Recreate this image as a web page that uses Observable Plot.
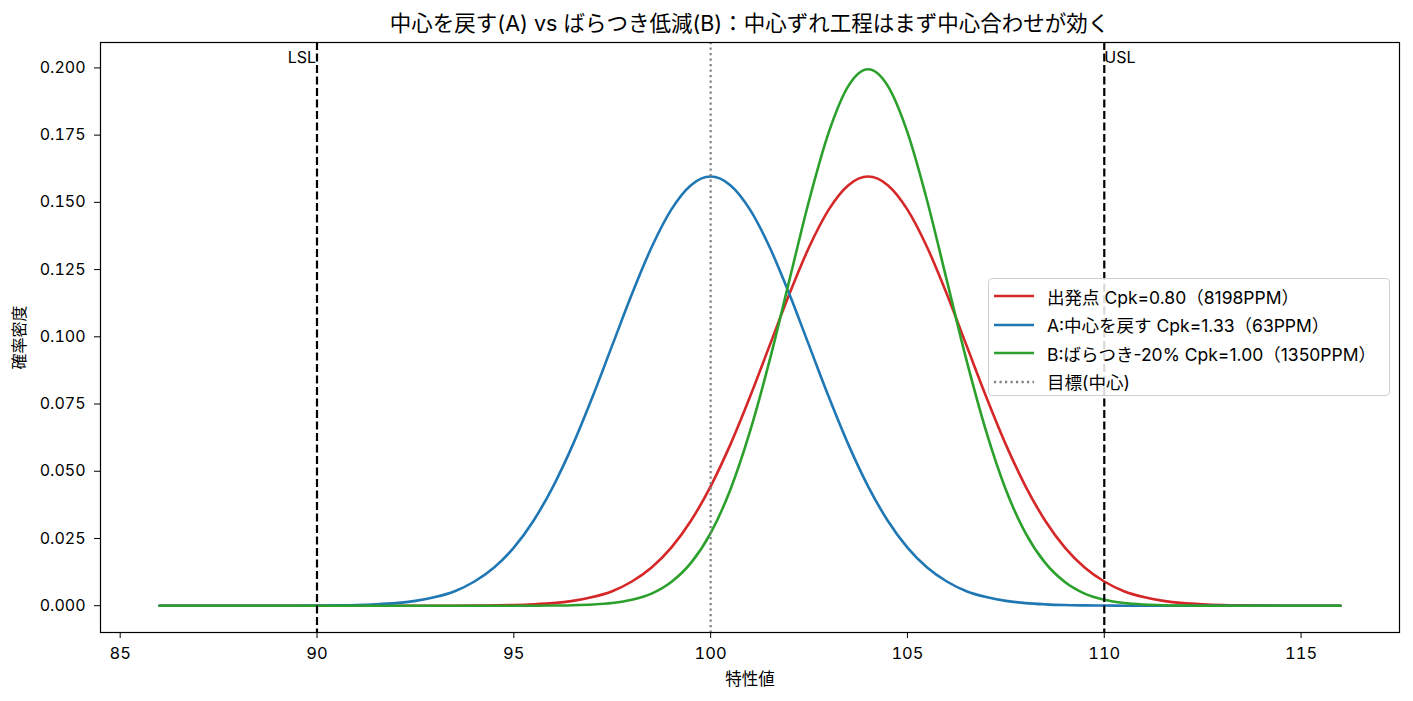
<!DOCTYPE html>
<html><head><meta charset="utf-8">
<script src="https://cdn.jsdelivr.net/npm/d3@7"></script>
<script src="https://cdn.jsdelivr.net/npm/@observablehq/plot@0.6"></script>
<style>
body{margin:0;background:#fff;font-family:Inter,"Noto Sans CJK JP",sans-serif;}
#wrap{position:relative;width:1413px;height:701px;}
#title{position:absolute;left:100px;width:1299px;top:6px;text-align:center;font-size:21.5px;color:#000;}
#chart{position:absolute;left:0;top:40px;}
#legend{position:absolute;left:988px;top:278px;width:400px;height:116px;border:1px solid #d0d0d0;border-radius:4px;background:rgba(255,255,255,0.85);font-size:17.5px;}
.row{position:absolute;left:0;height:22px;display:flex;align-items:center;white-space:nowrap;}
.row svg{margin-left:5px;margin-right:13px;}
</style></head>
<body>
<div id="wrap">
<div id="title">中心を戻す(A) vs ばらつき低減(B)：中心ずれ工程はまず中心合わせが効く</div>
<div id="chart"></div>
<div id="legend"></div>
</div>
<script>
// characteristic values (x grid)
const xs = [86,86.5,87,87.5,88,88.5,89,89.5,90,90.5,91,91.5,92,92.5,93,93.5,94,94.5,95,95.5,96,96.5,97,97.5,98,98.5,99,99.5,100,100.5,101,101.5,102,102.5,103,103.5,104,104.5,105,105.5,106,106.5,107,107.5,108,108.5,109,109.5,110,110.5,111,111.5,112,112.5,113,113.5,114,114.5,115,115.5,116];
// start point: density
const startY = [0,0,0,0,0,0,0,0,0,0,0,0,0,0,0,0,
  0.00005,0.00012,0.00024,0.0005,0.00095,0.0018,0.0032,0.0054,0.0090,0.0142,0.0216,0.0316,0.0444,0.0599,0.0777,0.0968,0.1159,0.1333,0.1473,0.1564,0.1596,
  0.1564,0.1473,0.1333,0.1159,0.0968,0.0777,0.0599,0.0444,0.0316,0.0216,0.0142,0.0090,0.0054,0.0032,0.0018,0.00095,0.0005,0.00024,0.00012,0.00005,
  0,0,0,0];
// A: centered
const aY = [0,0,0,0,0,0,0,0,
  0.00005,0.00012,0.00024,0.0005,0.00095,0.0018,0.0032,0.0054,0.0090,0.0142,0.0216,0.0316,0.0444,0.0599,0.0777,0.0968,0.1159,0.1333,0.1473,0.1564,0.1596,
  0.1564,0.1473,0.1333,0.1159,0.0968,0.0777,0.0599,0.0444,0.0316,0.0216,0.0142,0.0090,0.0054,0.0032,0.0018,0.00095,0.0005,0.00024,0.00012,0.00005,
  0,0,0,0,0,0,0,0,0,0,0,0];
// B: spread -20%
const bY = [0,0,0,0,0,0,0,0,0,0,0,0,0,0,0,0,0,0,0,0,
  0.00007,0.00018,0.00044,0.0010,0.0022,0.0045,0.0088,0.0159,0.0270,0.0431,0.0648,0.0913,0.1210,0.1506,0.1760,0.1933,0.1995,
  0.1933,0.1760,0.1506,0.1210,0.0913,0.0648,0.0431,0.0270,0.0159,0.0088,0.0045,0.0022,0.0010,0.00044,0.00018,0.00007,
  0,0,0,0,0,0,0,0];
const seriesNames = ["出発点 Cpk=0.80（8198PPM）","A:中心を戻す Cpk=1.33（63PPM）","B:ばらつき-20% Cpk=1.00（1350PPM）"];
const seriesColors = ["#d62728","#1f77b4","#2ca02c"];
const targetName = "目標(中心)";
const specX = [90, 110];
const specLabels = ["LSL","USL"];
const targetX = [100];
const xTicks = [85,90,95,100,105,110,115];
const yTicks = [0,0.025,0.05,0.075,0.1,0.125,0.15,0.175,0.2];

const ys = [startY, aY, bY];
const rows = [];
ys.forEach((arr, i) => arr.forEach((y, j) => rows.push({x: xs[j], y, s: seriesNames[i]})));

const plot = Plot.plot({
  width: 1413, height: 661,
  marginTop: 2, marginBottom: 69, marginLeft: 100, marginRight: 14,
  style: {fontFamily: 'Inter,"Noto Sans CJK JP",sans-serif', fontSize: "16px", color: "#000", background: "#fff"},
  x: {domain: [84.5, 117.5]},
  y: {domain: [-0.00997, 0.20945]},
  color: {domain: seriesNames, range: seriesColors},
  marks: [
    Plot.axisX({ticks: xTicks, tickSize: 6, tickPadding: 9, label: "特性値", labelAnchor: "center", labelArrow: "none", labelOffset: 52, fontSize: 16.5}),
    Plot.axisY({ticks: yTicks, tickFormat: d3.format(".3f"), tickSize: 6, tickPadding: 9, label: "確率密度", labelAnchor: "center", labelArrow: "none", labelOffset: 87, fontSize: 16}),
    Plot.line(rows, {x: "x", y: "y", z: "s", stroke: "s", strokeWidth: 2.6, curve: "monotone-x"}),
    Plot.ruleX(targetX, {stroke: "#808080", strokeWidth: 2.2, strokeDasharray: "2.2,3.3"}),
    Plot.ruleX(specX, {stroke: "#000", strokeWidth: 2.2, strokeDasharray: "8,3.5"}),
    Plot.text([0], {x: specX[0], y: 0.2036, text: () => specLabels[0], textAnchor: "end", dx: -1, fontSize: 16}),
    Plot.text([0], {x: specX[1], y: 0.2036, text: () => specLabels[1], textAnchor: "start", dx: 0, fontSize: 16}),
    Plot.frame({stroke: "#000", strokeWidth: 1.2})
  ]
});
document.getElementById("chart").appendChild(plot);

// legend
const leg = document.getElementById("legend");
const items = seriesNames.map((n, i) => ({n, c: seriesColors[i], dash: null}));
items.push({n: targetName, c: "#808080", dash: "2.2,3.3"});
items.forEach((it, i) => {
  const r = document.createElement("div");
  r.className = "row";
  r.style.top = (6 + i * 28.5) + "px";
  r.innerHTML = `<svg width="40" height="6"><line x1="0" x2="40" y1="3" y2="3" stroke="${it.c}" stroke-width="2.6" ${it.dash ? `stroke-dasharray="${it.dash}"` : ""}/></svg><span>${it.n}</span>`;
  leg.appendChild(r);
});
</script>
</body></html>
